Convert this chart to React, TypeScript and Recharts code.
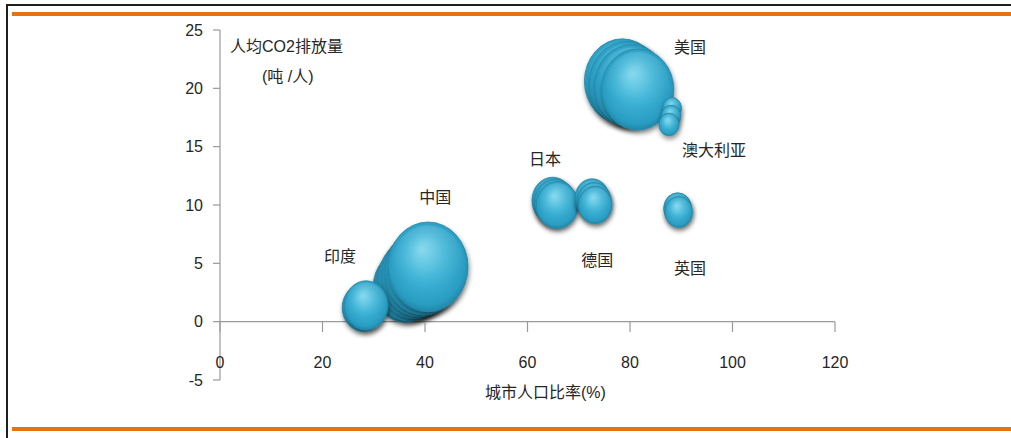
import React from 'react';
import { ScatterChart, Scatter, XAxis, YAxis, ZAxis, ReferenceLine, ReferenceDot } from 'recharts';

// x: urban population ratio (%), y: CO2 per capita (t/person), z: bubble size (total emissions, relative)
const china = [
  { x: 36.1, y: 3.0, z: 38 },
  { x: 37.0, y: 3.3, z: 43 },
  { x: 37.9, y: 3.7, z: 48 },
  { x: 38.8, y: 4.0, z: 52 },
  { x: 39.7, y: 4.3, z: 56 },
  { x: 40.6, y: 4.7, z: 60 },
];
const india = [
  { x: 28.0, y: 1.2, z: 17 },
  { x: 28.5, y: 1.4, z: 18 },
];
const usa = [
  { x: 78.5, y: 20.6, z: 54 },
  { x: 79.4, y: 20.4, z: 53 },
  { x: 80.3, y: 20.2, z: 51 },
  { x: 81.5, y: 19.9, z: 49 },
];
const australia = [
  { x: 88.2, y: 18.3, z: 3.4 },
  { x: 88.0, y: 17.6, z: 3.6 },
  { x: 87.6, y: 16.9, z: 3.8 },
];
const japan = [
  { x: 64.9, y: 10.4, z: 16 },
  { x: 65.4, y: 10.2, z: 16.5 },
  { x: 65.8, y: 10.0, z: 16.5 },
];
const germany = [
  { x: 72.6, y: 10.6, z: 11 },
  { x: 73.0, y: 10.3, z: 10.8 },
  { x: 73.2, y: 10.0, z: 10.5 },
];
const uk = [
  { x: 89.3, y: 9.7, z: 7.4 },
  { x: 89.5, y: 9.4, z: 7.2 },
];

const countryLabels = [
  { name: '美国', x: 91.7, y: 23.5 },
  { name: '澳大利亚', x: 96.4, y: 14.7 },
  { name: '日本', x: 63.4, y: 13.9 },
  { name: '中国', x: 42.0, y: 10.7 },
  { name: '印度', x: 23.4, y: 5.6 },
  { name: '德国', x: 73.6, y: 5.3 },
  { name: '英国', x: 91.7, y: 4.6 },
];

const xTicks = [0, 20, 40, 60, 80, 100, 120];
const yTicks = [-5, 0, 5, 10, 15, 20, 25];

const AXIS = '#9a9a9a';
const TEXT = '#262626';
const FONT = "'Liberation Sans', 'Noto Sans CJK SC', sans-serif";

const Bubble = (props: any) => {
  const { cx, cy, width } = props;
  if (cx == null || cy == null) return null;
  const rx = width / 2;
  const ry = rx * 1.12;
  return (
    <g>
      <ellipse cx={cx} cy={cy} rx={rx} ry={ry} fill="url(#bubGrad)" stroke="#2688a8" strokeWidth={0.8} filter="url(#bubShadow)" />
      <ellipse cx={cx} cy={cy - ry * 0.05} rx={rx * 0.9} ry={ry * 0.88} fill="url(#bubHi)" />
    </g>
  );
};

const XTick = (props: any) => {
  const { x, y, payload } = props;
  return (
    <g>
      <line x1={x} x2={x} y1={y - 58} y2={y - 48} stroke={AXIS} strokeWidth={1.2} />
      <text x={x} y={y - 18} textAnchor="middle" dominantBaseline="central" fill={TEXT} fontSize={16} fontFamily={FONT}>
        {payload.value}
      </text>
    </g>
  );
};

const series = [china, india, usa, australia, japan, germany, uk];

export default function App() {
  return (
    <div style={{ position: 'absolute', left: 0, top: 0, width: 1011, height: 438, background: '#fff', fontFamily: FONT, overflow: 'hidden' }}>
      <div style={{ position: 'absolute', left: 7, top: 4, width: 1004, height: 2, background: '#1e1e1e' }} />
      <div style={{ position: 'absolute', left: 6, top: 4, width: 2, height: 434, background: '#1e1e1e' }} />
      <div style={{ position: 'absolute', left: 12, top: 12, width: 999, height: 4, background: '#e8720f' }} />
      <div style={{ position: 'absolute', left: 12, top: 427, width: 999, height: 4, background: '#e8720f' }} />
      <div style={{ position: 'absolute', left: 0, top: 0 }}>
        <ScatterChart width={1011} height={438} margin={{ top: 30, right: 176, bottom: 28, left: 160 }}>
          <defs>
            <radialGradient id="bubGrad" cx="50%" cy="48%" r="55%" fx="42%" fy="30%">
              <stop offset="0%" stopColor="#74d4ec" />
              <stop offset="45%" stopColor="#3db4d7" />
              <stop offset="85%" stopColor="#2a9dc2" />
              <stop offset="100%" stopColor="#1d7f9f" />
            </radialGradient>
            <radialGradient id="bubHi" cx="50%" cy="20%" r="60%">
              <stop offset="0%" stopColor="#ffffff" stopOpacity={0.18} />
              <stop offset="100%" stopColor="#ffffff" stopOpacity={0} />
            </radialGradient>
            <filter id="bubShadow" x="-30%" y="-30%" width="160%" height="170%">
              <feDropShadow dx="1" dy="3" stdDeviation="2.5" floodColor="#000" floodOpacity="0.45" />
            </filter>
          </defs>
          <XAxis
            type="number"
            dataKey="x"
            domain={[0, 120]}
            ticks={xTicks}
            interval={0}
            height={30}
            axisLine={false}
            tickLine={false}
            tickSize={0}
            tickMargin={0}
            tick={(p: any) => <XTick {...p} />}
          />
          <YAxis
            type="number"
            dataKey="y"
            domain={[-5, 25]}
            ticks={yTicks}
            interval={0}
            width={60}
            axisLine={{ stroke: AXIS, strokeWidth: 1.2 }}
            tickLine={{ stroke: AXIS, strokeWidth: 1.2 }}
            tickSize={7}
            tickMargin={10}
            tick={{ fill: TEXT, fontSize: 16, fontFamily: FONT }}
          />
          <ZAxis type="number" dataKey="z" domain={[0, 60]} range={[0, Math.PI * 1600]} />
          <ReferenceLine y={0} stroke={AXIS} strokeWidth={1.2} />
          {series.map((d, i) => (
            <Scatter key={i} data={d} shape={<Bubble />} isAnimationActive={false} />
          ))}
          {countryLabels.map((l) => (
            <ReferenceDot
              key={l.name}
              x={l.x}
              y={l.y}
              r={0}
              fill="none"
              stroke="none"
              ifOverflow="visible"
              label={{ value: l.name, position: 'center', fill: TEXT, fontSize: 16, fontFamily: FONT }}
            />
          ))}
        </ScatterChart>
      </div>
      <div style={{ position: 'absolute', left: 230, top: 36, fontSize: 16, color: TEXT, whiteSpace: 'nowrap', lineHeight: '22px' }}>人均CO2排放量</div>
      <div style={{ position: 'absolute', left: 262, top: 66, fontSize: 16, color: TEXT, whiteSpace: 'nowrap', lineHeight: '22px' }}>(吨 /人)</div>
      <div style={{ position: 'absolute', left: 485, top: 382, fontSize: 16, color: TEXT, whiteSpace: 'nowrap', lineHeight: '22px' }}>城市人口比率(%)</div>
    </div>
  );
}
